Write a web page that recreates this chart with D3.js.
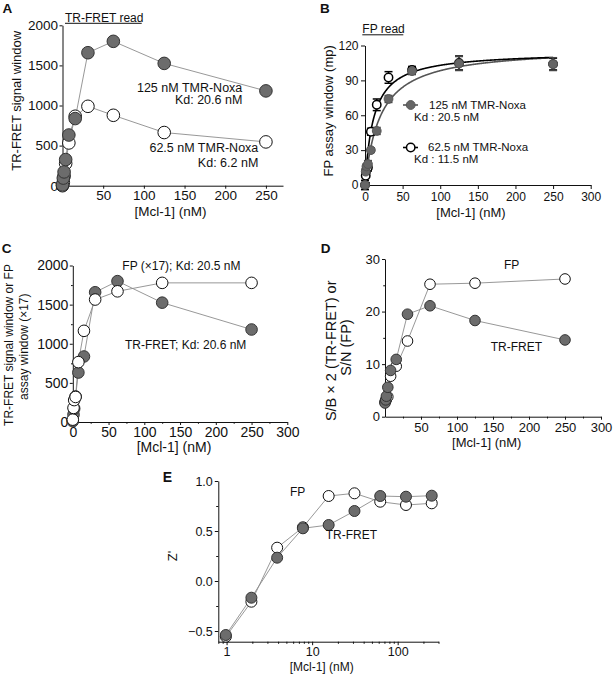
<!DOCTYPE html>
<html><head><meta charset="utf-8">
<script src="https://cdn.jsdelivr.net/npm/d3@7"></script>
<style>
body{margin:0;background:#fff}
svg{display:block;font-family:"Liberation Sans",Arial,Helvetica,sans-serif}
</style>
</head><body>
<svg id="c" width="613" height="674"></svg>
<script>
// ---------- DATA ----------
const conc = [0, 0.98, 1.95, 3.9, 7.8, 15.6, 31.25, 62.5, 125, 250];
const concLog = [0.98, 1.95, 3.9, 7.8, 15.6, 31.25, 62.5, 125, 250];

// Panel A: TR-FRET signal window
const aTR125 = [10, 95, 172, 326, 632, 837, 1658, 1800, 1525, 1182];
const aTR62 = [0, 40, 120, 277, 533, 866, 990, 878, 663, 546];

// Panel B: FP assay window (mp)
const bFP125 = [0, 11.5, 16, 18, 30, 46.5, 74, 98, 104.5, 104];
const bErr125 = [1, 2, 2, 3, 2, 3, 3, 3, 6, 5.5];
const bFP62 = [0, 8, 13, 15, 45.8, 69, 92.5, 99, 105, 104];
const bErr62 = [4, 6, 3, 3, 3, 5, 5, 3, 6, 5];
const fitKd = [20.5, 11.5];      // 125 nM, 62.5 nM
const fitBmax = [118.5, 114.8];

// Panel C: TR-FRET vs FP (x17)
const cTR = [10, 95, 172, 326, 632, 837, 1658, 1800, 1525, 1182];
const cFP = [30, 180, 280, 320, 765, 1165, 1565, 1670, 1778, 1778];

// Panel D: S/B x 2 (TR-FRET) or S/N (FP)
const dFP = [2.8, 3.0, 3.3, 3.8, 7.7, 9.6, 14.4, 25.2, 25.4, 26.2];
const dTR = [2.6, 3.2, 3.9, 5.6, 8.8, 10.9, 19.5, 21.1, 18.3, 14.6];

// Panel E: Z'
const eFP = [-0.557, -0.207, 0.333, 0.537, 0.85, 0.877, 0.793, 0.76, 0.777];
const eTR = [-0.54, -0.167, 0.233, 0.527, 0.56, 0.70, 0.85, 0.843, 0.853];

// tick labels
const aXTicks = [50, 100, 150, 200, 250];
const aYTicks = [0, 500, 1000, 1500, 2000];
const bXTicks = [0, 50, 100, 150, 200, 250, 300];
const bYTicks = [0, 30, 60, 90, 120];
const cXTicks = [0, 50, 100, 150, 200, 250, 300];
const cYTicks = [0, 500, 1000, 1500, 2000];
const dXTicks = [50, 100, 150, 200, 250, 300];
const dYTicks = [0, 10, 20, 30];
const eXTicks = [1, 10, 100];
const eYTicks = [-0.5, 0.0, 0.5, 1.0];

// ---------- DRAW ----------
const svg = d3.select("#c");
const FILL = "#6c6c6c", LINE = "#8c8c8c";

function zip(xs, ys){ return xs.map((c,i)=>({c, v: ys[i]})); }

function axes(x, y, o){
  const ax = d3.axisBottom(x).tickValues(o.xTicks).tickSize(o.tk).tickSizeOuter(0)
    .tickPadding(o.xPad).tickFormat(o.xFmt || d3.format("d"));
  const gx = svg.append("g").attr("transform", `translate(0,${y.range()[0]})`).call(ax);
  const ay = d3.axisLeft(y).tickValues(o.yTicks).tickSize(o.tk).tickSizeOuter(0)
    .tickPadding(o.yPad).tickFormat(o.yFmt || d3.format("d"));
  const gy = svg.append("g").attr("transform", `translate(${x.range()[0]},0)`).call(ay);
  [gx, gy].forEach(g => {
    g.selectAll("text").attr("font-size", o.fs).attr("fill", "#111")
      .style("font-family", '"Liberation Sans",Arial,sans-serif');
    g.selectAll("line,path").attr("stroke", "#111").attr("stroke-width", 1);
    g.attr("font-size", o.fs);
  });
  if (o.xMinor) {
    svg.append("g").attr("transform", `translate(0,${y.range()[0]})`)
      .call(d3.axisBottom(x).tickValues(o.xMinor).tickSize(o.tk*0.6).tickSizeOuter(0).tickFormat(""))
      .call(g => { g.select(".domain").remove(); g.selectAll("line").attr("stroke","#111"); });
  }
  if (o.yMinor) {
    svg.append("g").attr("transform", `translate(${x.range()[0]},0)`)
      .call(d3.axisLeft(y).tickValues(o.yMinor).tickSize(o.tk*0.6).tickSizeOuter(0).tickFormat(""))
      .call(g => { g.select(".domain").remove(); g.selectAll("line").attr("stroke","#111"); });
  }
}

function series(x, y, pts){
  svg.append("path").datum(pts)
    .attr("d", d3.line().x(d=>x(d.c)).y(d=>y(d.v)))
    .attr("fill","none").attr("stroke", LINE).attr("stroke-width", 0.9);
}
function markers(x, y, pts, r, filled){
  svg.append("g").selectAll("circle").data(pts).join("circle")
    .attr("cx", d=>x(d.c)).attr("cy", d=>y(d.v)).attr("r", r)
    .attr("fill", filled ? FILL : "#fff")
    .attr("stroke", filled ? "#333" : "#111").attr("stroke-width", 1);
}

function text(t, xp, yp, o={}){
  const el = svg.append("text").attr("x", xp).attr("y", yp).text(t)
    .attr("font-size", o.fs || 12).attr("fill", "#111")
    .attr("text-anchor", o.anchor || "start");
  if (o.bold) el.attr("font-weight", "bold");
  if (o.rot) el.attr("transform", `rotate(-90,${xp},${yp})`);
  return el;
}

// ===== Panel A =====
{
  const x = d3.scaleLinear([0, 271], [62.5, 283]);
  const y = d3.scaleLinear([0, 2000], [185.7, 25.3]);
  axes(x, y, {xTicks: aXTicks, yTicks: aYTicks, tk: 3, xPad: 1.5, yPad: 1.5, fs: 13.5});
  const p62 = zip(conc, aTR62), p125 = zip(conc, aTR125);
  series(x, y, p62);
  series(x, y, p125);
  markers(x, y, p62, 6.3, false);
  markers(x, y, p125, 6.3, true);
  text("A", 2.5, 12.5, {fs: 13.5, bold: true});
  text("TR-FRET read", 65, 21.5, {fs: 12});
  svg.append("line").attr("x1", 65).attr("x2", 141.7).attr("y1", 23.3).attr("y2", 23.3)
    .attr("stroke", "#111").attr("stroke-width", 1);
  text("125 nM TMR-Noxa", 242.3, 91.5, {fs: 12.5, anchor: "end"});
  text("Kd: 20.6 nM", 242.3, 104, {fs: 12.5, anchor: "end"});
  text("62.5 nM TMR-Noxa", 258.3, 151.5, {fs: 12.5, anchor: "end"});
  text("Kd: 6.2 nM", 258.3, 166.5, {fs: 12.5, anchor: "end"});
  text("TR-FRET signal window", 21.5, 100.8, {fs: 13, anchor: "middle", rot: true});
  text("[Mcl-1] (nM)", 170.5, 216, {fs: 13.5, anchor: "middle"});
}

// ===== Panel B =====
{
  const x = d3.scaleLinear([0, 300], [365, 590.7]);
  const y = d3.scaleLinear([0, 120], [185, 45.5]);
  axes(x, y, {xTicks: bXTicks, yTicks: bYTicks, tk: 4, xPad: 3, yPad: 2.5, fs: 12});
  // fitted one-site binding curves (model with Kd from labels)
  const xs = d3.range(0, 250.01, 0.5);
  const curve = (k) => xs.map(c => ({c, v: fitBmax[k] * c / (fitKd[k] + c)}));
  const ln = d3.line().x(d=>x(d.c)).y(d=>y(d.v));
  svg.append("path").attr("d", ln(curve(0))).attr("fill","none").attr("stroke","#555").attr("stroke-width",1.6);
  svg.append("path").attr("d", ln(curve(1))).attr("fill","none").attr("stroke","#000").attr("stroke-width",1.6);
  const errs = (vals, err, col) => {
    const g = svg.append("g").attr("stroke", col).attr("stroke-width", 1.5);
    conc.forEach((c, i) => {
      const x0 = x(c), y1 = y(vals[i] - err[i]), y2 = y(vals[i] + err[i]);
      g.append("line").attr("x1", x0).attr("x2", x0).attr("y1", y1).attr("y2", y2);
      g.append("line").attr("x1", x0-4).attr("x2", x0+4).attr("y1", y1).attr("y2", y1);
      g.append("line").attr("x1", x0-4).attr("x2", x0+4).attr("y1", y2).attr("y2", y2);
    });
  };
  errs(bFP62, bErr62, "#000");
  errs(bFP125, bErr125, "#444");
  const p62 = zip(conc, bFP62), p125 = zip(conc, bFP125);
  svg.append("g").selectAll("circle").data(p62).join("circle")
    .attr("cx", d=>x(d.c)).attr("cy", d=>y(d.v)).attr("r", 4.2)
    .attr("fill", "#fff").attr("stroke", "#000").attr("stroke-width", 1.5);
  svg.append("g").selectAll("circle").data(p125).join("circle")
    .attr("cx", d=>x(d.c)).attr("cy", d=>y(d.v)).attr("r", 4.4)
    .attr("fill", "#666").attr("stroke", "#555").attr("stroke-width", 1);
  text("B", 320, 12.7, {fs: 13.5, bold: true});
  text("FP read", 362.3, 33, {fs: 12});
  svg.append("line").attr("x1", 362.3).attr("x2", 403.3).attr("y1", 34.8).attr("y2", 34.8)
    .attr("stroke", "#111").attr("stroke-width", 1);
  // legend
  svg.append("line").attr("x1", 403).attr("x2", 418).attr("y1", 105).attr("y2", 105).attr("stroke","#555").attr("stroke-width",1.6);
  svg.append("circle").attr("cx", 410.7).attr("cy", 105).attr("r", 4.4).attr("fill","#666").attr("stroke","#555");
  svg.append("line").attr("x1", 403).attr("x2", 418).attr("y1", 147.5).attr("y2", 147.5).attr("stroke","#000").attr("stroke-width",1.6);
  svg.append("circle").attr("cx", 410.7).attr("cy", 147.5).attr("r", 4.2).attr("fill","#fff").attr("stroke","#000").attr("stroke-width",1.5);
  text("125 nM TMR-Noxa", 429, 108.8, {fs: 11.5});
  text("Kd : 20.5 nM", 414, 121, {fs: 11.5});
  text("62.5 nM TMR-Noxa", 428, 151, {fs: 11.5});
  text("Kd : 11.5 nM", 414, 163, {fs: 11.5});
  text("FP assay window (mp)", 333, 110.8, {fs: 13, anchor: "middle", rot: true});
  text("[Mcl-1] (nM)", 471, 217, {fs: 13, anchor: "middle"});
}

// ===== Panel C =====
{
  const x = d3.scaleLinear([0, 300], [72.8, 287.3]);
  const y = d3.scaleLinear([0, 2000], [422, 265.5]);
  axes(x, y, {xTicks: cXTicks, yTicks: cYTicks, tk: 3, xPad: 1.8, yPad: 1.5, fs: 14,
    xMinor: d3.range(25, 300, 50), yMinor: d3.range(250, 2000, 500)});
  const pF = zip(conc, cFP), pT = zip(conc, cTR);
  series(x, y, pF);
  series(x, y, pT);
  markers(x, y, pT, 5.8, true);
  markers(x, y, pF, 5.8, false);
  text("C", 1.7, 253.3, {fs: 13.5, bold: true});
  text("FP (×17); Kd: 20.5 nM", 122.3, 270, {fs: 12});
  text("TR-FRET; Kd: 20.6 nM", 125, 348.5, {fs: 12});
  text("TR-FRET signal window or FP", 12.5, 345, {fs: 12, anchor: "middle", rot: true});
  text("assay window (×17)", 28, 346.7, {fs: 12, anchor: "middle", rot: true});
  text("[Mcl-1] (nM)", 174, 452, {fs: 14, anchor: "middle"});
}

// ===== Panel D =====
{
  const x = d3.scaleLinear([0, 300], [385, 601]);
  const y = d3.scaleLinear([0, 30], [416.7, 259]);
  axes(x, y, {xTicks: dXTicks, yTicks: dYTicks, tk: 3, xPad: 2.6, yPad: 2, fs: 13,
    xMinor: d3.range(25, 300, 50), yMinor: [5, 15, 25]});
  const pF = zip(conc, dFP), pT = zip(conc, dTR);
  series(x, y, pF);
  series(x, y, pT);
  markers(x, y, pF, 5.3, false);
  markers(x, y, pT, 5.3, true);
  text("D", 320.7, 253.3, {fs: 13.5, bold: true});
  text("FP", 504, 268.5, {fs: 12});
  text("TR-FRET", 490.7, 350.5, {fs: 12});
  text("S/B × 2 (TR-FRET) or", 336, 350.8, {fs: 14.5, anchor: "middle", rot: true});
  text("S/N (FP)", 351, 347.5, {fs: 14.5, anchor: "middle", rot: true});
  text("[Mcl-1] (nM)", 486.7, 447, {fs: 13, anchor: "middle"});
}

// ===== Panel E =====
{
  const x = d3.scaleLog([0.8, 300], [218.3, 438.5]);
  const y = d3.scaleLinear([-0.607, 1.0], [641.7, 481]);
  const minorX = [0.8, 0.9, 2,3,4,5,6,7,8,9, 20,30,40,50,60,70,80,90, 200, 300];
  axes(x, y, {xTicks: eXTicks, yTicks: eYTicks, tk: 3.5, xPad: 1.5, yPad: 2, fs: 12.5,
    xFmt: d3.format("d"), yFmt: d3.format(".1f"), xMinor: minorX, yMinor: [-0.25, 0.25, 0.75]});
  const pF = zip(concLog, eFP), pT = zip(concLog, eTR);
  series(x, y, pF);
  series(x, y, pT);
  markers(x, y, pF, 5.5, false);
  markers(x, y, pT, 5.5, true);
  text("E", 162.7, 481.7, {fs: 14, bold: true});
  text("FP", 290, 496, {fs: 12});
  text("TR-FRET", 325.7, 538.5, {fs: 12});
  text("Z'", 177, 556, {fs: 13, anchor: "middle", rot: true});
  text("[Mcl-1] (nM)", 321.7, 670.5, {fs: 12, anchor: "middle"});
}
</script>
</body></html>
